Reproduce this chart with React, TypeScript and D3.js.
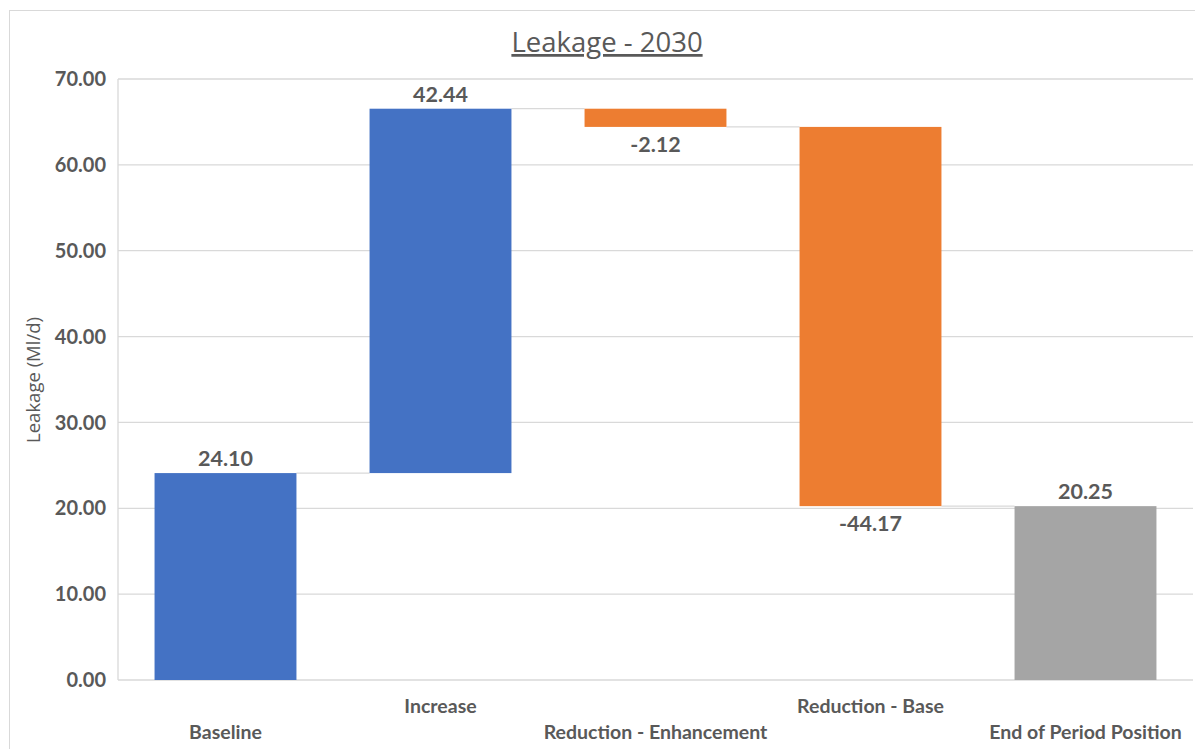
import React from "react";
import * as d3 from "d3";

const categories = ["Baseline", "Increase", "Reduction - Enhancement", "Reduction - Base", "End of Period Position"];
const deltas = [24.10, 42.44, -2.12, -44.17, 20.25];
const kinds = ["total", "up", "down", "down", "end"];
const yTicks = [0, 10, 20, 30, 40, 50, 60, 70];

const W = 1195;
const H = 749;
const M = { left: 118, right: 1193, top: 79, bottom: 680 };
const FONT = "Lato, 'Open Sans', sans-serif";
const TEXT = "#595959";

export default function App() {
  const x = d3.scaleBand<string>().domain(categories).range([M.left, M.right]).paddingInner(0.34).paddingOuter(0.17);
  const y = d3.scaleLinear().domain([0, 70]).range([M.bottom, M.top]);

  let running = 0;
  const segs = categories.map((c, i) => {
    let start: number, end: number;
    if (kinds[i] === "total" || kinds[i] === "end") {
      start = 0;
      end = deltas[i];
      running = deltas[i];
    } else {
      start = running;
      end = running + deltas[i];
      running = end;
    }
    return { c, start, end, v: deltas[i], kind: kinds[i] };
  });

  const color = (k: string) => (k === "down" ? "#ED7D31" : k === "end" ? "#A5A5A5" : "#4472C4");
  const bw = x.bandwidth();

  return (
    <svg width={W} height={H} style={{ position: "absolute", left: 0, top: 0, background: "#fff" }} fontFamily={FONT}>
      <rect x={9.5} y={10.5} width={W + 10} height={H + 10} fill="#fff" stroke="#d9d9d9" />
      <text x={607} y={52} textAnchor="middle" fontSize={27.5} fill={TEXT} textDecoration="underline" fontFamily="'Open Sans', sans-serif">
        Leakage - 2030
      </text>
      {yTicks.map((t) => (
        <g key={t}>
          <line x1={M.left} x2={M.right} y1={y(t)} y2={y(t)} stroke="#d9d9d9" strokeWidth={1.3} />
          <text x={106} y={y(t)} dy="0.36em" textAnchor="end" fontSize={20} fontWeight="bold" fill={TEXT}>
            {t.toFixed(2)}
          </text>
        </g>
      ))}
      <line x1={M.left} x2={M.left} y1={M.top} y2={M.bottom} stroke="#d9d9d9" strokeWidth={1.3} />
      <text transform={`translate(40,380) rotate(-90)`} textAnchor="middle" fontSize={18.5} fill={TEXT} fontFamily="'Open Sans', sans-serif">
        Leakage (Ml/d)
      </text>
      {segs.map((s, i) => {
        const x0 = x(s.c)!;
        const top = y(Math.max(s.start, s.end));
        const bot = y(Math.min(s.start, s.end));
        const labelAbove = s.v >= 0;
        const next = segs[i + 1];
        return (
          <g key={s.c}>
            {next && (
              <line x1={x0 + bw} x2={x(next.c)!} y1={y(s.end)} y2={y(s.end)} stroke="#d9d9d9" strokeWidth={1.3} />
            )}
            <rect x={x0} y={top} width={bw} height={bot - top} fill={color(s.kind)} />
            <text
              x={x0 + bw / 2}
              y={labelAbove ? top - 7 : bot + 25}
              textAnchor="middle"
              fontSize={21.5}
              fontWeight="bold"
              fill={TEXT}
            >
              {s.v.toFixed(2)}
            </text>
            <text
              x={x0 + bw / 2}
              y={i % 2 === 0 ? 739 : 713}
              textAnchor="middle"
              fontSize={19.5}
              fontWeight="bold"
              fill={TEXT}
            >
              {s.c}
            </text>
          </g>
        );
      })}
    </svg>
  );
}
